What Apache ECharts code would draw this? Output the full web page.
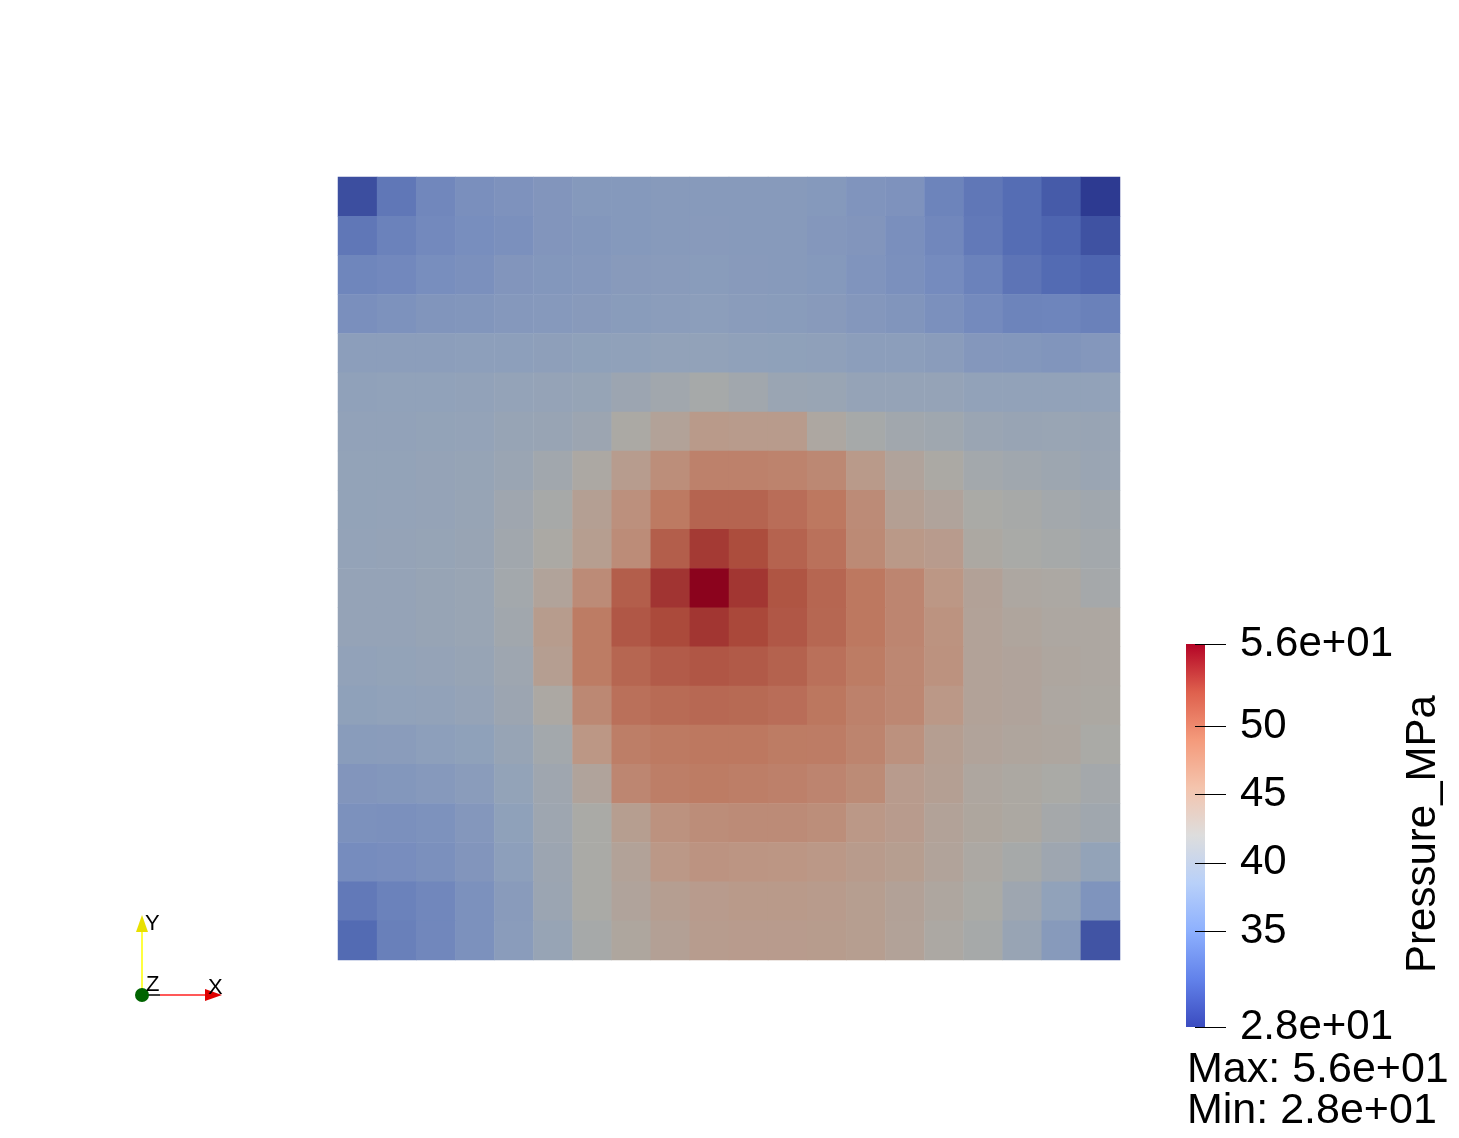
<!DOCTYPE html>
<html lang="en">
<head>
    <meta charset="UTF-8">
    <title>Pressure_MPa</title>
    <script src="https://cdn.jsdelivr.net/npm/echarts@6/dist/echarts.min.js"></script>
</head>
<body style="margin:0;background:#fff;">
<div id="main" style="width:1459px;height:1138px;"></div>

<script type="text/javascript">
    // cell columns / rows of the 20 x 20 grid
    var cols = ['0','1','2','3','4','5','6','7','8','9','10','11','12','13','14','15','16','17','18','19'];
    var rows = ['0','1','2','3','4','5','6','7','8','9','10','11','12','13','14','15','16','17','18','19'];

    // pressure per cell, top row first (MPa)
    var pressure = [
        [29.5, 33, 34.5, 35.5, 36, 36.5, 37, 37, 37.2, 37.2, 37.2, 37.2, 37, 36.3, 36, 34.2, 33, 32, 30.5, 28],
        [33, 34, 34.7, 35.3, 35.6, 36.5, 36.7, 37, 37.2, 37.3, 37.2, 37.2, 36.8, 36.5, 35.5, 34.5, 33.2, 32, 31.3, 29.8],
        [34.4, 34.6, 35.3, 35.6, 36.5, 36.7, 36.9, 37.3, 37.4, 37.5, 37.3, 37.2, 37, 36.3, 35.7, 34.9, 34, 32.7, 31.8, 31.3],
        [35.5, 35.9, 36.4, 36.6, 36.9, 37.1, 37.3, 37.5, 37.7, 37.8, 37.6, 37.5, 37.3, 36.8, 36.4, 35.6, 34.8, 34.2, 34.3, 33.9],
        [37.8, 37.9, 37.9, 38, 38, 38.1, 38.3, 38.4, 38.6, 38.7, 38.4, 38.3, 38.2, 37.9, 37.8, 37.6, 36.8, 36.7, 36.4, 36.8],
        [38.4, 38.5, 38.5, 38.6, 38.9, 39, 39.2, 40, 40.7, 41.5, 40.8, 39.8, 39.6, 39, 39, 39.1, 38.7, 38.7, 38.6, 38.6],
        [38.6, 38.7, 38.8, 38.9, 39.3, 39.5, 40, 42.2, 43.5, 45, 44.8, 44.8, 42.5, 41.5, 40.8, 40.5, 39.8, 39.5, 39.6, 39.5],
        [38.8, 38.8, 39, 39.2, 39.7, 40.8, 42.3, 44.5, 46.5, 48, 48, 47.8, 47.2, 45, 43.2, 42.2, 41, 40.6, 40.2, 39.8],
        [38.8, 38.9, 39.1, 39.3, 40.4, 41.6, 44, 46.3, 48.8, 50.5, 50.5, 49.8, 49, 46.8, 44, 43.2, 42, 41.6, 41, 40.6],
        [38.9, 39, 39.2, 39.5, 40.7, 42.2, 44.3, 46.7, 51, 53.3, 52.3, 50.6, 49.5, 47, 45.2, 44.7, 42.4, 41.9, 41.4, 41],
        [39, 39.1, 39.3, 39.6, 41, 43.3, 46.8, 51, 53.6, 56, 53.5, 51.7, 50.4, 49, 47.5, 45.5, 43.6, 42.5, 42.3, 41.3],
        [39, 39.1, 39.3, 39.6, 40.7, 44.6, 48.6, 51.5, 52.5, 53.5, 52.6, 51.5, 50.3, 49, 47.5, 46, 43.5, 43, 42.5, 42.5],
        [38.7, 38.8, 39, 39.3, 40.3, 44.2, 48.6, 50.4, 51.2, 51.6, 51.3, 50.7, 49.6, 48.6, 47.3, 46.1, 43.5, 43.2, 42.7, 42.5],
        [38.3, 38.5, 38.7, 39, 40, 42.3, 47.2, 49.6, 50, 50.2, 50.1, 49.8, 49.1, 48, 47.3, 45.3, 43.5, 43.2, 42.5, 42.4],
        [37.5, 37.6, 38, 38.3, 39.3, 41, 45.5, 48.3, 48.8, 49, 49, 48.6, 48.5, 47.7, 46.2, 44.2, 43.3, 43, 42.7, 42],
        [36.5, 36.7, 37.1, 37.6, 38.8, 40.4, 43.2, 47.4, 48.3, 48.6, 48.3, 48.1, 47.6, 46.9, 44.7, 44, 42.7, 42.4, 42, 41.2],
        [35.8, 35.6, 35.9, 36.8, 38.3, 40.3, 42, 44.3, 46.1, 46.6, 46.8, 46.8, 46.5, 45.3, 44.7, 43.5, 42.8, 42.4, 41.3, 40.6],
        [35, 35.2, 35.7, 36.5, 38, 40, 42, 43.5, 45.3, 45.9, 45.7, 45.6, 45.3, 44.8, 44.3, 43.3, 42.3, 41.5, 40.3, 38.8],
        [33.2, 34, 34.5, 35.8, 37.4, 39.9, 42, 43.2, 44.2, 44.7, 45, 45, 44.8, 44.3, 43.6, 42.7, 42, 40.3, 38.5, 36.2],
        [31.8, 33.8, 34.5, 35.8, 37.6, 39.4, 41.5, 42.8, 43.8, 44.5, 44.7, 44.7, 44.6, 44.3, 43.5, 42.3, 41.5, 39.5, 37.2, 30]
    ];

    // colour bar ticks
    var barTicks = [28, 35, 40, 45, 50, 56];
    var barLabels = ['2.8e+01', '35', '40', '45', '50', '5.6e+01'];
    var rangeMin = 28;
    var rangeMax = 56;

    // cool to warm, as lit on the surface and as shown in the bar
    var litColors = ['#2d3a91', '#5068b2', '#768cbe', '#91a2ba', '#aaaaa6', '#bc9785', '#bd7860', '#ab4a3b', '#8b031d'];
    var barColors = ['#3b4cc0', '#6282ea', '#8db0fe', '#b8d0f9', '#dddddd', '#f4c4ad', '#f49a7b', '#de604d', '#b40426'];

    var cells = [];
    for (var r = 0; r < pressure.length; r++) {
        for (var c = 0; c < pressure[r].length; c++) {
            cells.push([c, r, pressure[r][c]]);
        }
    }

    var stops = [];
    for (var i = 0; i < barColors.length; i++) {
        stops.push({offset: 1 - i / (barColors.length - 1), color: barColors[i]});
    }

    var font = 'Liberation Sans, Arial, sans-serif';
    var myChart = echarts.init(document.getElementById('main'));
    var option = {
        backgroundColor: '#ffffff',
        animation: false,
        grid: [
            {left: 338, top: 177, width: 782, height: 783},
            {left: 1186, top: 644, width: 19, height: 383}
        ],
        xAxis: [
            {type: 'category', data: cols, show: false, gridIndex: 0},
            {type: 'category', data: ['bar'], show: false, gridIndex: 1}
        ],
        yAxis: [
            {type: 'category', data: rows, show: false, inverse: true, gridIndex: 0},
            {
                type: 'value', gridIndex: 1, min: rangeMin, max: rangeMax,
                position: 'right', offset: -10, z: 5,
                axisLine: {show: false},
                splitLine: {show: false},
                axisTick: {show: true, length: 31, customValues: barTicks,
                    lineStyle: {color: '#000', width: 1}},
                axisLabel: {
                    show: true, customValues: barTicks, margin: 45,
                    color: '#000', fontSize: 42, fontFamily: font,
                    padding: [0, 0, 10, 0],
                    formatter: function (v) {
                        var k = barTicks.indexOf(v);
                        return k >= 0 ? barLabels[k] : '';
                    }
                }
            }
        ],
        visualMap: [{
            type: 'continuous', show: false, seriesIndex: 0, dimension: 2,
            min: rangeMin, max: rangeMax, inRange: {color: litColors}
        }],
        series: [
            {
                type: 'heatmap', xAxisIndex: 0, yAxisIndex: 0, data: cells,
                silent: true, itemStyle: {borderWidth: 0}
            },
            {
                type: 'bar', xAxisIndex: 1, yAxisIndex: 1, stack: 'cb', silent: true,
                barWidth: '100%', data: [rangeMin], itemStyle: {color: 'rgba(0,0,0,0)'}
            },
            {
                type: 'bar', xAxisIndex: 1, yAxisIndex: 1, stack: 'cb', silent: true,
                barWidth: '100%', data: [rangeMax - rangeMin],
                itemStyle: {color: new echarts.graphic.LinearGradient(0, 0, 0, 1, stops)}
            }
        ],
        graphic: [
            {type: 'text', x: 1423, y: 834, rotation: Math.PI / 2,
                style: {text: 'Pressure_MPa', fill: '#000', font: '42px ' + font,
                    textAlign: 'center', textVerticalAlign: 'middle'}},
            {type: 'text', x: 1187, y: 1070,
                style: {text: 'Max: 5.6e+01', fill: '#000', font: '43px ' + font,
                    textAlign: 'left', textVerticalAlign: 'middle'}},
            {type: 'text', x: 1187, y: 1111,
                style: {text: 'Min: 2.8e+01', fill: '#000', font: '43px ' + font,
                    textAlign: 'left', textVerticalAlign: 'middle'}},
            // orientation axes
            {type: 'line', shape: {x1: 142, y1: 995, x2: 142, y2: 928}, style: {stroke: '#ffff00', lineWidth: 1.5}},
            {type: 'polygon', shape: {points: [[142, 915], [136, 932], [148, 932]]}, style: {fill: '#e8e000'}},
            {type: 'line', shape: {x1: 142, y1: 995, x2: 160, y2: 995}, style: {stroke: '#000', lineWidth: 1.5}},
            {type: 'line', shape: {x1: 160, y1: 995, x2: 208, y2: 995}, style: {stroke: '#ff2020', lineWidth: 1.5}},
            {type: 'polygon', shape: {points: [[222, 995], [205, 989], [205, 1001]]}, style: {fill: '#e00000'}},
            {type: 'circle', shape: {cx: 142, cy: 995, r: 7}, style: {fill: '#006400'}},
            {type: 'text', x: 145, y: 924, style: {text: 'Y', fill: '#000', font: '22px ' + font, textVerticalAlign: 'middle'}},
            {type: 'text', x: 146, y: 985, style: {text: 'Z', fill: '#000', font: '22px ' + font, textVerticalAlign: 'middle'}},
            {type: 'text', x: 208, y: 988, style: {text: 'X', fill: '#000', font: '22px ' + font, textVerticalAlign: 'middle'}}
        ]
    };
    myChart.setOption(option);
</script>
</body>
</html>
